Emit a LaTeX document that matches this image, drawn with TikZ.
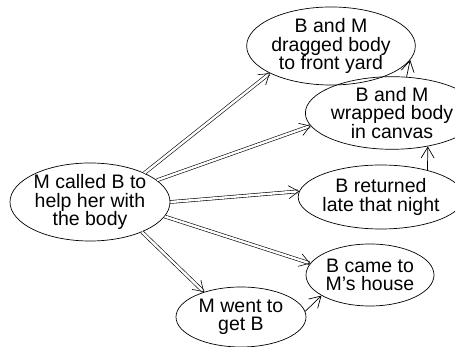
\documentclass[tikz,border=0pt]{standalone}
\usepackage{fontspec}
\setmainfont{Liberation Sans}
\usepackage{tikz}
\usetikzlibrary{shapes,arrows.meta,positioning,calc}

\begin{document}
\begin{tikzpicture}[
    x=1pt, y=1pt,
    event/.style={ellipse, draw, line width=0.7pt, inner sep=0pt, align=center,
        font=\fontsize{19.5}{18.5}\selectfont},
    cause/.style={double, double distance=2.4pt, line width=0.6pt,
        -{Straight Barb[length=10pt,width=13pt]}},
    follow/.style={line width=0.7pt, -{Straight Barb[length=11pt,width=13pt]}}
]
    \useasboundingbox (0,0) rectangle (455,347);

    % Events
    \node[event, minimum width=160, minimum height=77] (call) at (90,145) {M called B to\\help her with\\the body};
    \node[event, minimum width=128, minimum height=68] (drag) at (331,301) {B and M\\dragged body\\to front yard};
    \node[event, minimum width=126, minimum height=66] (wrap) at (392,234) {B and M\\wrapped body\\in canvas};
    \node[event, minimum width=132, minimum height=64] (ret) at (381,150) {B returned\\late that night};
    \node[event, minimum width=128, minimum height=62] (came) at (370,72) {B came to\\M's house};
    \node[event, minimum width=130, minimum height=60] (went) at (241,30) {M went to\\get B};

    % Links from the call
    \draw[cause] (call.28) -- (drag.204);
    \draw[cause] (call.18) -- (wrap.189);
    \draw[cause] (call.0) -- (ret.176);
    \draw[cause] (call.-11) -- (came.169);
    \draw[cause] (call.-30) -- (went.146);

    % Order of events
    \draw[follow] (went.5) -- (came.203);
    \draw[follow] (ret.30) -- (wrap.-43);
    \draw[follow] (wrap.68) -- (drag.-10);
\end{tikzpicture}
\end{document}
